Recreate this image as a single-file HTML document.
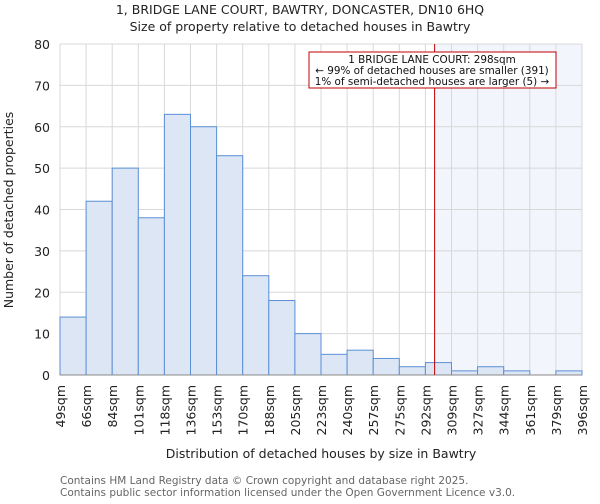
<!DOCTYPE html>
<html><head><meta charset="utf-8"><style>
body{margin:0;background:#fff;width:600px;height:500px;overflow:hidden;font-family:"DejaVu Sans","Liberation Sans",sans-serif}
svg text{font-family:"DejaVu Sans","Liberation Sans",sans-serif}
</style></head><body>
<svg id="chart" width="600" height="500">
<text x="300" y="14" text-anchor="middle" font-size="12.5" fill="#222">1, BRIDGE LANE COURT, BAWTRY, DONCASTER, DN10 6HQ</text>
<text x="300" y="31" text-anchor="middle" font-size="12.5" fill="#222">Size of property relative to detached houses in Bawtry</text>
<g id="grid"></g><g id="bars"></g><g id="axes"></g>
<text transform="translate(13,210) rotate(-90)" text-anchor="middle" font-size="12.5" fill="#222">Number of detached properties</text>
<text x="321" y="458" text-anchor="middle" font-size="12.5" fill="#222">Distribution of detached houses by size in Bawtry</text>
<text x="60" y="484" font-size="10.5" fill="#666">Contains HM Land Registry data © Crown copyright and database right 2025.</text>
<text x="60" y="496" font-size="10.5" fill="#666">Contains public sector information licensed under the Open Government Licence v3.0.</text>
</svg>
<script>
const edgeLabels=["49sqm","66sqm","84sqm","101sqm","118sqm","136sqm","153sqm","170sqm","188sqm","205sqm","223sqm","240sqm","257sqm","275sqm","292sqm","309sqm","327sqm","344sqm","361sqm","379sqm","396sqm"];
const edgeValues=[49,66,84,101,118,136,153,170,188,205,223,240,257,275,292,309,327,344,361,379,396];
const counts=[14,42,50,38,63,60,53,24,18,10,5,6,4,2,3,1,2,1,0,1];
const yTicks=[0,10,20,30,40,50,60,70,80];
const subject=298;
const X0=60,X1=582,Y0=375,Y1=44,YMAX=80;
const NS="http://www.w3.org/2000/svg";
const nb=counts.length;
const xi=i=>X0+(X1-X0)*i/nb;
function xv(v){for(let i=0;i<edgeValues.length-1;i++){if(v<=edgeValues[i+1])return xi(i)+(v-edgeValues[i])/(edgeValues[i+1]-edgeValues[i])*(xi(i+1)-xi(i));}return X1;}
const y=v=>Y0-(Y0-Y1)*v/YMAX;
function mk(t,a,p){const e=document.createElementNS(NS,t);for(const k in a)e.setAttribute(k,a[k]);p.appendChild(e);return e;}
const grid=document.getElementById('grid'),bars=document.getElementById('bars'),axes=document.getElementById('axes'),svg=document.getElementById('chart');
const sx=xv(subject);
const shade=mk('rect',{x:sx,y:Y1,width:X1-sx,height:Y0-Y1,fill:'#f2f5fc'},grid);


for(let i=0;i<=nb;i++){const g=mk('line',{x1:xi(i),x2:xi(i),y1:Y1,y2:Y0,stroke:'#d8d8d8','stroke-width':1},grid);

}
yTicks.forEach(t=>{const g=mk('line',{x1:X0,x2:X1,y1:y(t),y2:y(t),stroke:'#d8d8d8','stroke-width':1},grid);


const l=mk('text',{x:X0-10,y:y(t)+5,'text-anchor':'end','font-size':12.5,fill:'#222'},axes);l.textContent=t;

});
counts.forEach((c,i)=>{if(c<=0)return;const r=mk('rect',{x:xi(i),y:y(c),width:xi(i+1)-xi(i),height:Y0-y(c),fill:'#dce6f4',stroke:'#5b8fd6','stroke-width':1},bars);

});
edgeLabels.forEach((s,i)=>{const l=mk('text',{transform:`translate(${xi(i)+5},${Y0+10}) rotate(-90)`,'text-anchor':'end','font-size':12.5,fill:'#222'},axes);l.textContent=s;

});
const ax=mk('line',{x1:X0,x2:X1,y1:Y0,y2:Y0,stroke:'#888','stroke-width':1},axes);


const rl=mk('line',{x1:sx,x2:sx,y1:Y1,y2:Y0,stroke:'#c00000','stroke-width':1},svg);


const box=mk('rect',{x:309,y:52,width:247,height:36,fill:'#fff',stroke:'#c00000','stroke-width':1},svg);


[["1 BRIDGE LANE COURT: 298sqm",63],["← 99% of detached houses are smaller (391)",74],["1% of semi-detached houses are larger (5) →",85]].forEach(([t,yy])=>{const l=mk('text',{x:432,y:yy,'text-anchor':'middle','font-size':10.4,fill:'#111'},svg);l.textContent=t;

});
</script>
</body></html>
